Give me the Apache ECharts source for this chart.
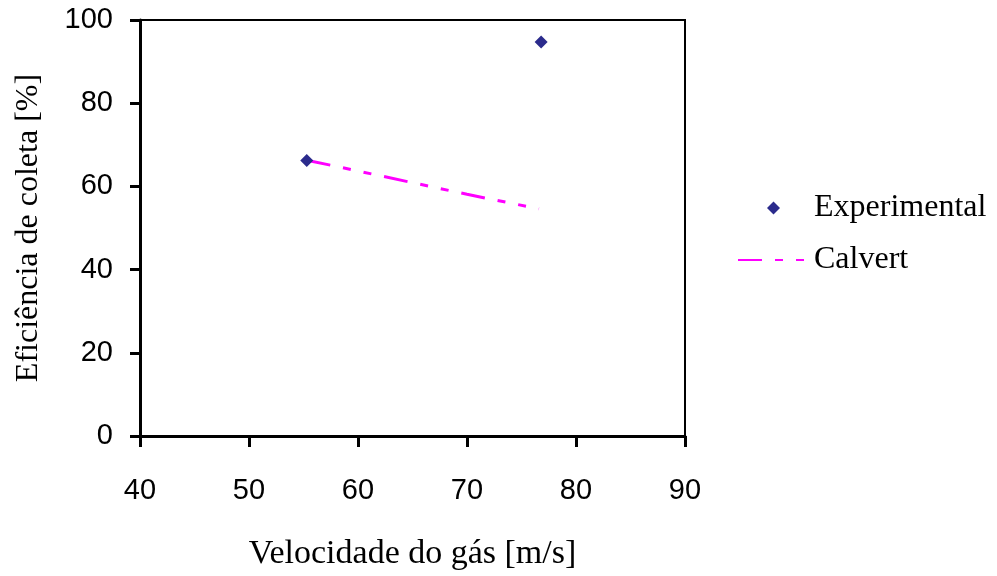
<!DOCTYPE html>
<html>
<head>
<meta charset="utf-8">
<script src="https://cdn.jsdelivr.net/npm/echarts@6/dist/echarts.min.js"></script>
<style>html,body{margin:0;padding:0;background:#fff}#c{width:997px;height:576px}</style>
</head>
<body>
<div id="c"></div>
<script>
const expX = [55.3, 76.8];
const expY = [66.2, 94.7];
const calvertX = [55.3, 60, 65, 70, 76.6];
const calvertY = [66.3, 63.7, 60.9, 58.1, 54.6];
const xTitle = 'Velocidade do gás [m/s]';
const yTitle = 'Eficiência de coleta [%]';
const seriesNames = ['Experimental', 'Calvert'];

const serif = "'Liberation Serif','Times New Roman',serif";
const sans = "'Liberation Sans',Arial,sans-serif";

const chart = echarts.init(document.getElementById('c'), null, {renderer: 'canvas'});
chart.setOption({
  animation: false,
  backgroundColor: '#fff',
  grid: {left: 140, right: 312, top: 20, bottom: 140, show: true, borderColor: '#000', borderWidth: 2, backgroundColor: 'transparent'},
  xAxis: {
    type: 'value', min: 40, max: 90, interval: 10,
    name: xTitle, nameLocation: 'middle', nameGap: 101,
    nameTextStyle: {fontFamily: serif, fontSize: 34, color: '#000'},
    axisLine: {show: true, lineStyle: {color: '#000', width: 3}},
    axisTick: {show: true, inside: false, length: 11, lineStyle: {color: '#000', width: 3}},
    axisLabel: {margin: 40, fontFamily: sans, fontSize: 29, color: '#000'},
    splitLine: {show: false}
  },
  yAxis: {
    type: 'value', min: 0, max: 100, interval: 20,
    name: yTitle, nameLocation: 'middle', nameGap: 95,
    nameTextStyle: {fontFamily: serif, fontSize: 32, color: '#000'},
    axisLine: {show: true, lineStyle: {color: '#000', width: 3}},
    axisTick: {show: true, inside: false, length: 10, lineStyle: {color: '#000', width: 3}},
    axisLabel: {margin: 27, fontFamily: sans, fontSize: 29, color: '#000'},
    splitLine: {show: false}
  },
  legend: [
    {
      data: [{name: seriesNames[0], icon: 'diamond'}],
      left: 762, top: 187, itemWidth: 13, itemHeight: 13,
      textStyle: {fontFamily: serif, fontSize: 32, color: '#000', padding: [0, 0, 0, 29]}
    },
    {
      data: [{name: seriesNames[1], itemStyle: {opacity: 0}}],
      left: 732, top: 239, itemWidth: 66, itemHeight: 20,
      textStyle: {fontFamily: serif, fontSize: 32, color: '#000', padding: [0, 0, 0, 5]}
    }
  ],
  series: [
    {
      name: seriesNames[1], type: 'line', symbol: 'none', z: 2,
      data: calvertX.map((x, i) => [x, calvertY[i]]),
      lineStyle: {color: '#ff00ff', width: 3, type: [24, 13, 8, 13, 8, 13]},
      itemStyle: {color: '#ff00ff'}
    },
    {
      name: seriesNames[0], type: 'scatter', symbol: 'diamond', symbolSize: 13, z: 3,
      data: expX.map((x, i) => [x, expY[i]]),
      itemStyle: {color: '#2b2b8c', opacity: 1}
    }
  ]
});
</script>
</body>
</html>
